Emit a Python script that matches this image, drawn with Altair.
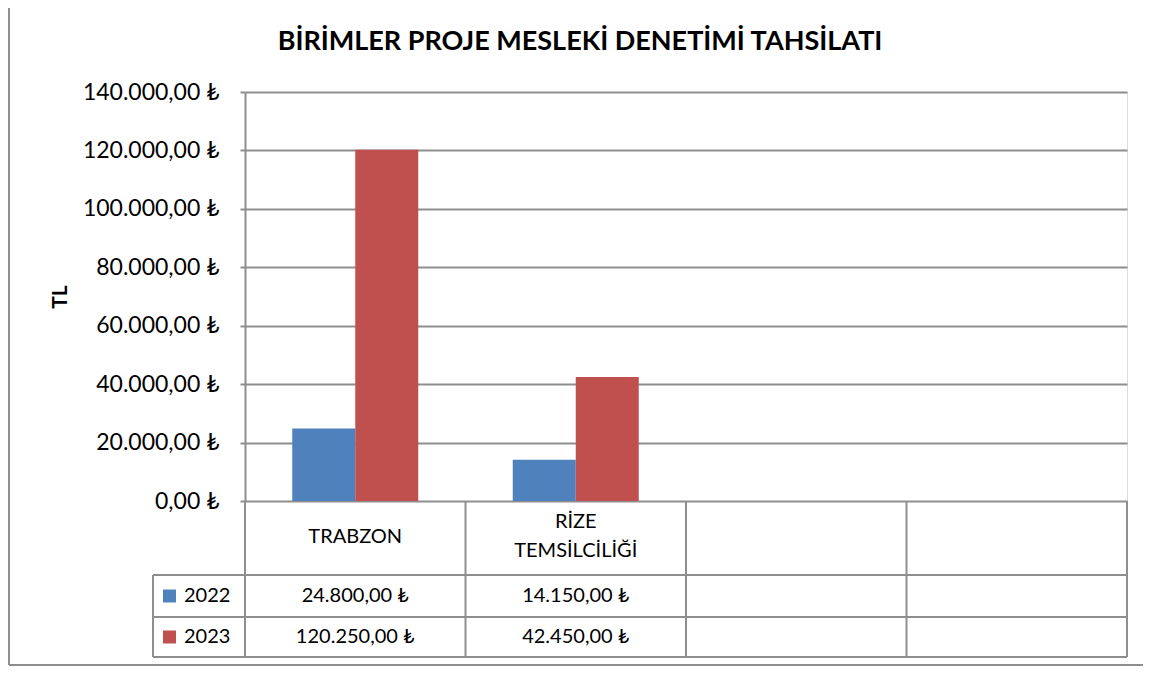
import altair as alt
import pandas as pd

# ---- data ----
categories = ["TRABZON", "RİZE\nTEMSİLCİLİĞİ", "", ""]
years = ["2022", "2023"]
values_2022 = [24800, 14150]
values_2023 = [120250, 42450]
y_ticks = [0, 20000, 40000, 60000, 80000, 100000, 120000, 140000]
colors = ["#4F81BD", "#C0504D"]

FONT = "Lato, DejaVu Sans"
GRAY = "#8e8e8e"

rows = []
for i in range(len(values_2022)):
    rows.append({"cat": i, "year": years[0], "value": values_2022[i]})
    rows.append({"cat": i, "year": years[1], "value": values_2023[i]})
bars_df = pd.DataFrame(rows)
cells_df = pd.DataFrame({"cat": list(range(len(categories))), "label": categories})
legend_df = pd.DataFrame({"year": years})
one = pd.DataFrame({"k": [0]})

W, H = 882, 409
CAT_DOMAIN = list(range(len(categories)))

x_enc = alt.X("cat:O", scale=alt.Scale(domain=CAT_DOMAIN, paddingInner=0, paddingOuter=0), axis=None)
color_enc = alt.Color("year:N", scale=alt.Scale(domain=years, range=colors), legend=None)

bars = alt.Chart(bars_df).mark_bar().encode(
    x=alt.X("cat:O", scale=alt.Scale(domain=CAT_DOMAIN, paddingInner=0, paddingOuter=0),
            axis=alt.Axis(labels=False, ticks=False, title=None, grid=False,
                          domainColor=GRAY, domainWidth=2)),
    xOffset=alt.XOffset("year:N", scale=alt.Scale(domain=years, paddingInner=0, paddingOuter=0.75)),
    y=alt.Y("value:Q", scale=alt.Scale(domain=[0, 140000], nice=False),
            axis=alt.Axis(values=y_ticks, format=",.2f", labelExpr="datum.label + ' ₺'",
                          labelFont=FONT, labelFontSize=23, labelColor="black", labelPadding=21,
                          tickSize=5, tickColor=GRAY, tickWidth=2,
                          grid=True, gridColor=GRAY, gridWidth=2,
                          domainColor=GRAY, domainWidth=2,
                          title="TL", titleFont=FONT, titleFontSize=21, titleFontWeight="bold",
                          titleColor="black", titleX=-185, titleY=204.5, titleAngle=-90,
                          titleAlign="center", titleBaseline="middle")),
    color=color_enc,
)

header_single = alt.Chart(cells_df).transform_filter(
    "indexof(datum.label, '\\n') < 0"
).mark_text(fontSize=20, baseline="middle", font=FONT, color="black").encode(
    x=x_enc, y=alt.value(445), text="label:N")

header_multi = alt.Chart(cells_df).transform_filter(
    "indexof(datum.label, '\\n') >= 0"
).mark_text(lineBreak="\n", fontSize=20, lineHeight=29, baseline="middle",
            font=FONT, color="black").encode(
    x=x_enc, y=alt.value(430), text="label:N")


def value_row(year, ypix):
    return alt.Chart(bars_df).transform_filter(
        alt.datum.year == year
    ).transform_calculate(
        txt="format(datum.value, ',.2f') + ' ₺'"
    ).mark_text(fontSize=20, baseline="middle", font=FONT, color="black").encode(
        x=x_enc, y=alt.value(ypix), text="txt:N")


def legend_row(year, ypix):
    sq = alt.Chart(legend_df).transform_filter(alt.datum.year == year).mark_square(
        size=169, opacity=1, filled=True).encode(
        x=alt.value(-75.5), y=alt.value(ypix), color=color_enc)
    tx = alt.Chart(legend_df).transform_filter(alt.datum.year == year).mark_text(
        align="left", baseline="middle", fontSize=20, font=FONT, color="black").encode(
        x=alt.value(-61), y=alt.value(ypix), text="year:N")
    return [sq, tx]


def rule(x, x2, y, y2):
    return alt.Chart(one).mark_rule(color=GRAY, strokeWidth=2).encode(
        x=alt.value(x), x2=alt.value(x2), y=alt.value(y), y2=alt.value(y2))


vlines = alt.Chart(cells_df).mark_rule(color=GRAY, strokeWidth=2).encode(
    x=alt.X("cat:O", bandPosition=0, scale=alt.Scale(domain=CAT_DOMAIN, paddingInner=0, paddingOuter=0),
            axis=None),
    y=alt.value(H), y2=alt.value(565))

layers = [bars, vlines, header_single, header_multi, value_row("2022", 504), value_row("2023", 545)]
layers += legend_row("2022", 504) + legend_row("2023", 545)
layers += [
    rule(W, W, H, 565),
    rule(-92, W, 483, 483),
    rule(-92, W, 525, 525),
    rule(-92, W, 565, 565),
    rule(-92, -92, 483, 565),
    rule(-236, -236, -84, 573),
    rule(-236, 920, 573, 573),
]

chart = alt.layer(*layers).properties(
    width=W, height=H,
    title=alt.Title("BİRİMLER PROJE MESLEKİ DENETİMİ TAHSİLATI", font=FONT, fontSize=27,
                    fontWeight="bold", color="black", anchor="middle", dx=-106, offset=-49),
    autosize=alt.AutoSizeParams(type="none"),
    padding={"left": 237, "top": 84, "right": 16, "bottom": 166},
).configure_view(stroke=None).configure(background="white")

chart.save("out.html", embed_options={
    "renderer": "svg", "actions": False,
    "formatLocale": {"decimal": ",", "thousands": ".", "grouping": [3], "currency": ["", " ₺"]},
})
